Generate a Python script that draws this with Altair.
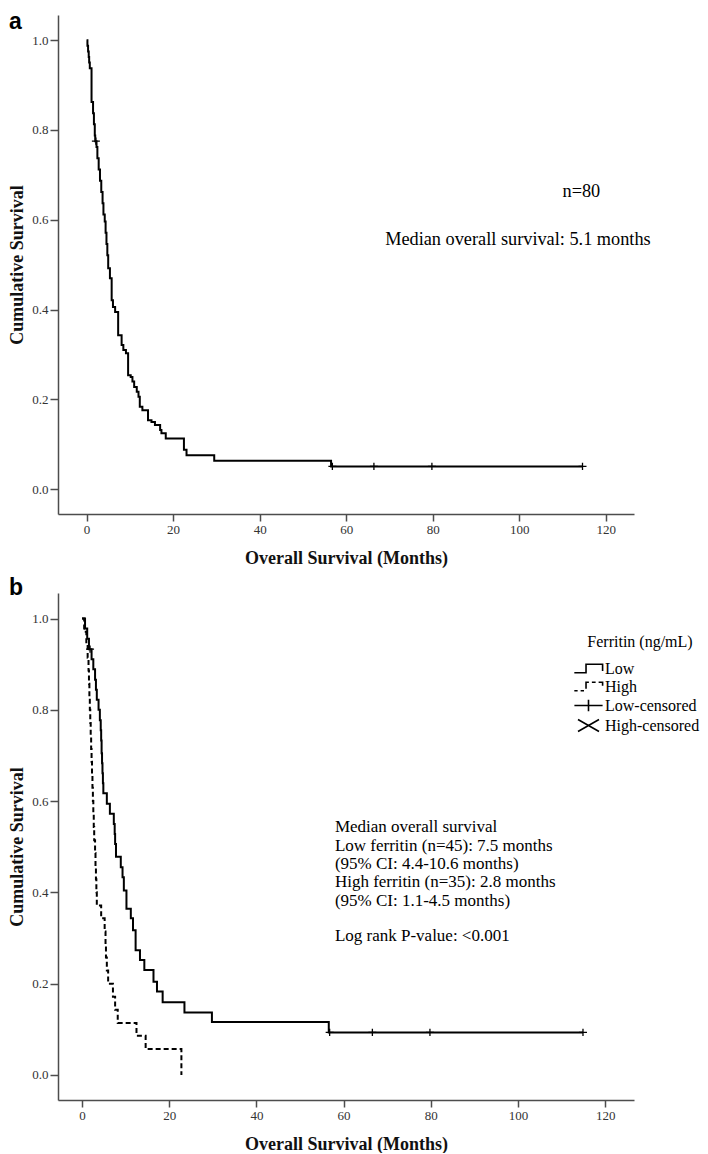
import altair as alt
import pandas as pd

# ---------------- data ----------------
x_ticks = [0, 20, 40, 60, 80, 100, 120]
y_ticks = [0.0, 0.2, 0.4, 0.6, 0.8, 1.0]

# Panel a: all patients (n=80)
a_time = [0, 0.2, 0.35, 0.5, 0.6, 0.75, 1.15, 1.5, 1.7, 1.9, 2.0, 2.3, 2.5, 2.8, 3.1,
          3.4, 3.7, 3.9, 4.2, 4.4, 4.6, 4.8, 5.0, 5.4, 5.8, 6.1, 6.6, 7.3, 8.1, 8.5,
          9.1, 9.6, 10.2, 10.6, 11.0, 11.6, 12.0, 12.3, 12.9, 14.2, 15.0, 15.8, 17.0,
          17.3, 18.3, 22.5, 23.1, 29.5, 56.5, 114.6]
a_surv = [1.0, 0.9875, 0.975, 0.9625, 0.95, 0.9375, 0.8625, 0.8375, 0.8125, 0.7875,
          0.775, 0.762, 0.737, 0.712, 0.687, 0.662, 0.637, 0.612, 0.596, 0.571, 0.546,
          0.521, 0.492, 0.47, 0.421, 0.406, 0.395, 0.343, 0.321, 0.31, 0.303, 0.254,
          0.25, 0.24, 0.228, 0.217, 0.206, 0.184, 0.176, 0.154, 0.15, 0.143, 0.132,
          0.125, 0.113, 0.088, 0.076, 0.0637, 0.051, 0.051]
a_cens_time = [2.15, 56.8, 66.4, 79.8, 114.6]
a_cens_surv = [0.775, 0.051, 0.051, 0.051, 0.051]

# Panel b: low ferritin (n=45) and high ferritin (n=35)
low_time = [0, 0.7, 1.2, 1.6, 2.2, 2.6, 3.0, 3.2, 3.4, 3.8, 4.1, 4.3, 4.4, 4.5, 4.6,
            4.7, 4.8, 4.9, 5.7, 6.4, 7.3, 7.5, 7.6, 7.8, 8.9, 9.3, 9.6, 10.2, 11.2,
            11.7, 12.3, 13.3, 14.3, 16.4, 17.2, 18.5, 23.5, 29.8, 56.6, 114.9]
low_surv = [1.0, 0.978, 0.956, 0.933, 0.911, 0.889, 0.866, 0.844, 0.822, 0.800, 0.777,
            0.755, 0.733, 0.705, 0.683, 0.661, 0.639, 0.617, 0.594, 0.572, 0.550, 0.528,
            0.506, 0.478, 0.455, 0.433, 0.404, 0.364, 0.343, 0.317, 0.273, 0.252, 0.230,
            0.204, 0.183, 0.159, 0.137, 0.116, 0.093, 0.093]
high_time = [0, 0.5, 1.0, 1.3, 1.5, 1.6, 1.7, 1.8, 1.9, 2.0, 2.1, 2.2, 2.3, 2.4, 2.5,
             2.6, 2.7, 2.8, 3.0, 3.1, 3.2, 3.3, 3.4, 4.4, 5.2, 5.4, 5.5, 5.7, 6.0, 7.1,
             7.6, 8.2, 12.5, 14.6, 22.8]
high_surv = [1.0, 0.971, 0.943, 0.914, 0.886, 0.857, 0.829, 0.800, 0.771, 0.743, 0.714,
             0.686, 0.657, 0.629, 0.600, 0.571, 0.543, 0.514, 0.486, 0.457, 0.429, 0.400,
             0.371, 0.343, 0.314, 0.286, 0.257, 0.229, 0.200, 0.171, 0.143, 0.114, 0.086,
             0.057, 0.0]
low_cens_time = [1.85, 56.8, 66.6, 79.8, 114.9]
low_cens_surv = [0.933, 0.093, 0.093, 0.093, 0.093]

legend_cats = ["Low", "High", "Low-censored", "High-censored"]
a_notes = ["n=80", "Median overall survival: 5.1 months"]
b_notes = ["Median overall survival",
           "Low ferritin (n=45): 7.5 months",
           "(95% CI: 4.4-10.6 months)",
           "High ferritin (n=35): 2.8 months",
           "(95% CI: 1.1-4.5 months)"]
b_pvalue = "Log rank P-value: <0.001"

# ---------------- styling / placement ----------------
SERIF = "Liberation Serif"
SANS = "Liberation Sans"
A_XDOM = [-6.6, 126.5]
B_XDOM = [-5.5, 126.6]
YDOM = [-0.055, 1.056]
PLOT_W = 576
a_note_pos = [(118.7, 0.661, "right"), (69.0, 0.554, "left")]
b_note_pos = (58.0, 0.560)
b_pval_pos = (58.0, 0.321)

PLUS_PLOT = "M-1,0L1,0M0,-0.9L0,0.9"
LOW_P = "M-1.89,0.56L-0.33,0.56L-0.33,-0.56L1.88,-0.56L1.88,0.33"
HIGH_P = ("M-1.89,0.56L-1.45,0.56M-1.05,0.56L-0.6,0.56M-0.33,0.3L-0.33,-0.56L0.05,-0.56"
          "M0.45,-0.56L0.95,-0.56M1.35,-0.56L1.88,-0.56L1.88,-0.1")
PLUS_P = "M-1.88,0L1.88,0M0,-0.77L0,0.77"
X_P = "M-1.4,-0.8L1.4,0.8M-1.4,0.8L1.4,-0.8"


def x_enc(domain):
    return alt.X("t:Q", scale=alt.Scale(domain=domain, nice=False, zero=False),
                 axis=alt.Axis(values=x_ticks, format="d", title="Overall Survival (Months)",
                               labelFlush=False, tickSize=7, labelPadding=2, titlePadding=13))


def y_enc():
    return alt.Y("s:Q", scale=alt.Scale(domain=YDOM, nice=False, zero=False),
                 axis=alt.Axis(values=y_ticks, format=".1f", title="Cumulative Survival",
                               tickSize=8, labelPadding=2, titlePadding=5))


def tag(letter, yv):
    return alt.Chart(pd.DataFrame({"label": [letter]})).mark_text(
        align="left", baseline="alphabetic", font=SANS, fontWeight="bold",
        fontSize=23, color="black").encode(x=alt.value(-49), y=alt.value(yv), text="label:N")


def note_layer(text, pos, xe, ye, align, baseline, size):
    return alt.Chart(pd.DataFrame({"t": [pos[0]], "s": [pos[1]], "label": [text]})).mark_text(
        align=align, baseline=baseline, font=SERIF, fontSize=size, lineBreak="\n",
        lineHeight=18.3, color="black").encode(x=xe, y=ye, text="label:N")


# ---------------- panel a ----------------
xa, ya = x_enc(A_XDOM), y_enc()
a_line = alt.Chart(pd.DataFrame({"t": a_time, "s": a_surv})).mark_line(
    interpolate="step-after", color="black", strokeWidth=2).encode(x=xa, y=ya)
a_cens = alt.Chart(pd.DataFrame({"t": a_cens_time, "s": a_cens_surv})).mark_point(
    shape=PLUS_PLOT, size=64, filled=False, color="black", strokeWidth=1.3, opacity=1
).encode(x=xa, y=ya)
a_txt = [note_layer(note, (tx, sy), xa, ya, al, "middle", 18.3)
         for note, (tx, sy, al) in zip(a_notes, a_note_pos)]
panel_a = alt.layer(a_line, a_cens, *a_txt, tag("a", 14.4)).properties(width=PLOT_W, height=499)

# ---------------- panel b ----------------
xb, yb = x_enc(B_XDOM), y_enc()
b_low = alt.Chart(pd.DataFrame({"t": low_time, "s": low_surv})).mark_line(
    interpolate="step-after", color="black", strokeWidth=2).encode(x=xb, y=yb)
b_high = alt.Chart(pd.DataFrame({"t": high_time, "s": high_surv})).mark_line(
    interpolate="step-after", color="black", strokeWidth=2, strokeDash=[5, 3]).encode(x=xb, y=yb)
b_cens = alt.Chart(pd.DataFrame({"t": low_cens_time, "s": low_cens_surv})).mark_point(
    shape=PLUS_PLOT, size=64, filled=False, color="black", strokeWidth=1.3, opacity=1
).encode(x=xb, y=yb)
b_leg = alt.Chart(pd.DataFrame({"t": low_cens_time, "s": low_cens_surv,
                                "g": ["Low-censored"] * len(low_cens_time)})).mark_point(
    filled=False, color="black", strokeWidth=1.6
).encode(
    x=xb, y=yb,
    shape=alt.Shape("g:N", scale=alt.Scale(domain=legend_cats, range=[LOW_P, HIGH_P, PLUS_P, X_P]),
                    legend=alt.Legend(title="Ferritin (ng/mL)", orient="none",
                                      legendX=522, legendY=619, padding=0,
                                      symbolSize=225, symbolStrokeWidth=1.6,
                                      symbolStrokeColor="black", symbolFillColor="transparent",
                                      symbolOpacity=1,
                                      labelFont=SERIF, labelFontSize=16, labelColor="black",
                                      labelOffset=8,
                                      titleFont=SERIF, titleFontSize=16, titleFontWeight="normal",
                                      titleColor="black", titleAnchor="middle", titlePadding=10,
                                      rowPadding=1)),
    opacity=alt.value(0))
b_txt = note_layer("\n".join(b_notes), b_note_pos, xb, yb, "left", "top", 17)
b_pv = note_layer(b_pvalue, b_pval_pos, xb, yb, "left", "top", 17)
panel_b = alt.layer(b_low, b_high, b_cens, b_leg, b_txt, b_pv, tag("b", 2)).properties(
    width=PLOT_W, height=507)

chart = alt.vconcat(panel_a, panel_b, spacing=10,
                    padding={"top": 3, "left": 0, "right": 0, "bottom": 0}).configure_view(
    stroke=None
).configure_axis(
    domainColor="#4d4d4d", domainWidth=1.5, tickColor="#4d4d4d", tickWidth=1.5,
    labelFont=SERIF, labelFontSize=13, labelColor="#333333",
    titleFont=SERIF, titleFontSize=18, titleFontWeight="bold", titleColor="#111111",
    grid=False
).properties(background="white")

chart.save("out.html", embed_options={"renderer": "svg", "actions": False})
